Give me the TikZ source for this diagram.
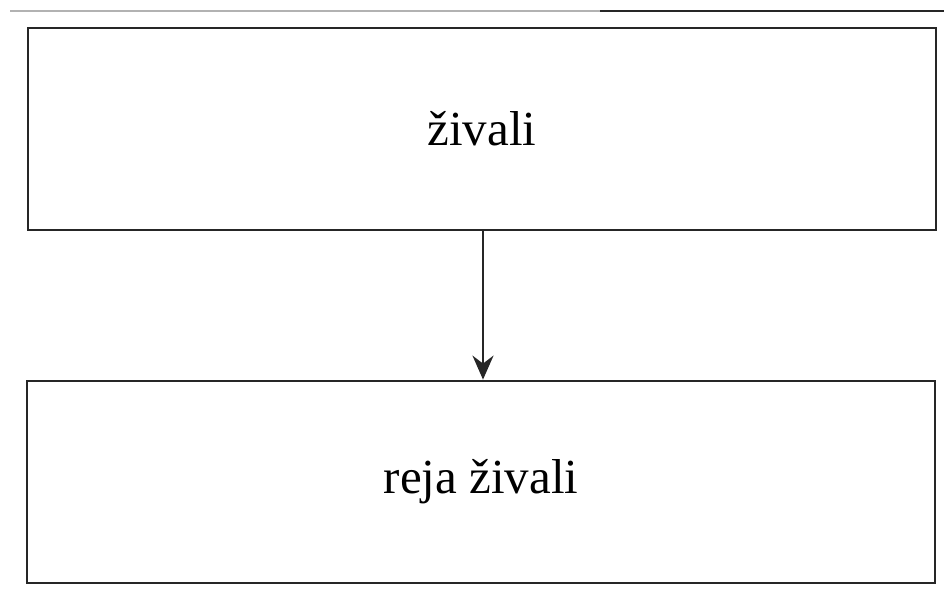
\documentclass[tikz,border=0pt]{standalone}
\usepackage{fontspec}
\setmainfont{Liberation Serif}
\usetikzlibrary{arrows.meta}
\begin{document}
\begin{tikzpicture}[x=1pt,y=-1pt,
  boxstyle/.style={draw=black!85,line width=2.8pt,minimum width=908pt,minimum height=202pt,inner sep=0pt,font=\fontsize{49}{56}\selectfont},
  conn/.style={draw=black!85,line width=2.5pt,-{Stealth[length=24pt,width=21pt,inset=8pt]}}]
\useasboundingbox (0,0) rectangle (944,599);
\draw[black!30,line width=1.5pt] (10,11) -- (600,11);
\draw[black!85,line width=2pt] (600,11) -- (944,11);
\node[boxstyle] (top) at (482,129) {živali};
\node[boxstyle] (bot) at (481,482) {reja živali};
\draw[conn] (top.south -| 483,0) -- (bot.north -| 483,0);
\end{tikzpicture}
\end{document}
